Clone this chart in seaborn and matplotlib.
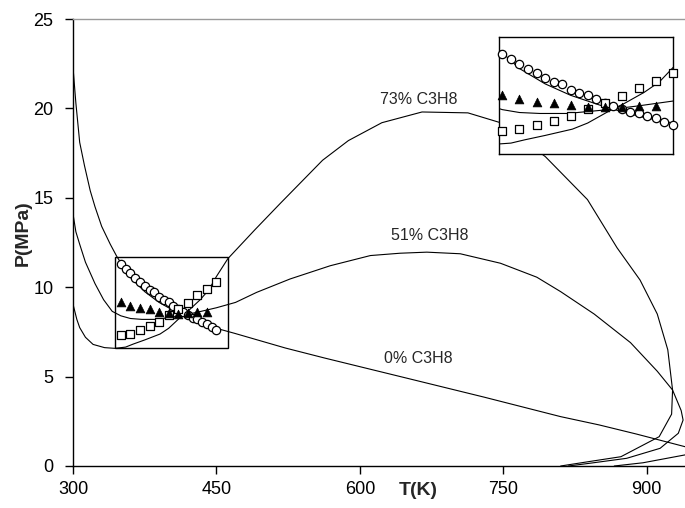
import matplotlib
matplotlib.use("Agg")
import matplotlib.pyplot as plt
import matplotlib.patches as mpatches
import seaborn as sns

# Model phase envelopes, P (MPa) against T (K), traced in drawing order
t_0 = [300, 303, 307, 312, 318, 323, 330, 339, 346, 360, 375, 390, 410, 430,
       450, 469, 522, 563, 650, 730, 810, 850, 889, 940, 950, 940, 896, 866]
p_0 = [22.3, 20.3, 18.1, 16.8, 15.4, 14.5, 13.4, 12.4, 11.7, 10.55, 9.75, 9.15,
       8.55, 8.05, 7.7, 7.42, 6.6, 6.04, 4.9, 3.85, 2.76, 2.3, 1.79, 1.08, 0.85,
       0.62, 0.18, 0.0]

t_51 = [300, 303, 307, 313, 323, 332, 341, 350, 360, 372, 388, 400, 412, 430,
        450, 470, 492, 527, 569, 611, 642, 670, 705, 747, 785, 810, 845, 883,
        911, 927, 936, 938, 933, 914, 879, 840, 818]
p_51 = [14.1, 13.1, 12.4, 11.4, 10.2, 9.3, 8.65, 8.4, 8.25, 8.2, 8.2, 8.3, 8.4,
        8.6, 8.85, 9.15, 9.71, 10.46, 11.2, 11.77, 11.9, 11.96, 11.87, 11.34,
        10.56, 9.75, 8.5, 6.9, 5.3, 4.25, 3.1, 2.57, 1.83, 0.99, 0.43, 0.15, 0.0]

t_73 = [300, 304, 307, 313, 321, 333, 344, 355, 363, 375, 391, 400, 412, 422,
        433, 442, 450, 462, 490, 517, 561, 588, 623, 665, 713, 747, 794, 838,
        869, 893, 911, 922, 927, 926, 913, 873, 840, 810]
p_73 = [9.05, 8.2, 7.74, 7.2, 6.8, 6.62, 6.58, 6.65, 6.82, 7.05, 7.38, 7.7, 8.3,
        8.75, 9.3, 9.85, 10.6, 11.6, 13.2, 14.7, 17.1, 18.2, 19.2, 19.8, 19.75,
        19.2, 17.3, 14.9, 12.2, 10.4, 8.5, 6.5, 4.25, 2.9, 1.64, 0.52, 0.25, 0.0]

# Measured points
exp_t_0 = [350, 355, 360, 365, 370, 375, 380, 385, 390, 395, 400, 405, 410,
           415, 420, 425, 430, 435, 440, 445, 450]
exp_p_0 = [11.31, 11.03, 10.77, 10.51, 10.30, 10.07, 9.86, 9.72, 9.43, 9.29,
           9.17, 8.94, 8.76, 8.59, 8.42, 8.29, 8.21, 8.07, 7.94, 7.77, 7.60]

exp_t_51 = [350, 360, 370, 380, 390, 400, 410, 420, 430, 440]
exp_p_51 = [9.17, 8.96, 8.82, 8.76, 8.64, 8.55, 8.52, 8.55, 8.59, 8.59]

exp_t_73 = [350, 360, 370, 380, 390, 400, 410, 420, 430, 440, 450]
exp_p_73 = [7.30, 7.39, 7.60, 7.82, 8.08, 8.42, 8.76, 9.13, 9.55, 9.92, 10.30]

curve_labels = ["73% C3H8", "51% C3H8", "0% C3H8"]
label_pos = [(662, 20.5), (673, 12.9), (661, 6.0)]

x_ticks = [300, 450, 600, 750, 900]
y_ticks = [0, 5, 10, 15, 20, 25]

sns.set_style("ticks")
plt.rcParams["font.family"] = ["Liberation Sans", "DejaVu Sans"]

fig = plt.figure(figsize=(6.85, 5.08), dpi=100)
ax = fig.add_axes([73 / 685, 42 / 508, 612 / 685, 447 / 508])


def draw_envelopes(a, lw):
    for t, p in [(t_0, p_0), (t_51, p_51), (t_73, p_73)]:
        sns.lineplot(x=t, y=p, sort=False, estimator=None, color="black",
                     linewidth=lw, ax=a, legend=False)


def draw_points(a, clip):
    kw = dict(ax=a, legend=False, clip_on=clip, zorder=5)
    sns.scatterplot(x=exp_t_0, y=exp_p_0, marker="o", s=36, facecolor="white",
                    edgecolor="black", linewidth=0.9, **kw)
    sns.scatterplot(x=exp_t_73, y=exp_p_73, marker="s", s=34, facecolor="white",
                    edgecolor="black", linewidth=0.9, **kw)
    sns.scatterplot(x=exp_t_51, y=exp_p_51, marker="^", s=40, color="black",
                    edgecolor="black", linewidth=0.5, **kw)


draw_envelopes(ax, 0.8)
draw_points(ax, True)

ax.set_xlim(300, 940)
ax.set_ylim(0, 25)
ax.set_xticks(x_ticks)
ax.set_yticks(y_ticks)
ax.tick_params(axis="both", direction="out", length=6, width=1, labelsize=13,
               colors="black")
ax.tick_params(axis="y", pad=8)
ax.tick_params(axis="x", pad=5)

ax.spines["right"].set_visible(False)
ax.spines["top"].set_color("#9a9a9a")
ax.spines["top"].set_linewidth(1.0)
for side in ("left", "bottom"):
    ax.spines[side].set_color("black")
    ax.spines[side].set_linewidth(1.0)

ax.set_xlabel("T(K)", fontsize=14, fontweight="bold")
ax.set_ylabel("P(MPa)", fontsize=14, fontweight="bold")
ax.xaxis.set_label_coords(0.564, -0.054)
ax.yaxis.set_label_coords(-0.082, 0.521)
ax.xaxis.label.set_va("center")
ax.yaxis.label.set_va("center")

for txt, (tx, ty) in zip(curve_labels, label_pos):
    ax.text(tx, ty, txt, fontsize=11.5, ha="center", va="center")

# Frame around the region shown enlarged in the inset
ax.add_patch(mpatches.Rectangle((343.9, 6.6), 462 - 343.9, 11.69 - 6.6,
                                fill=False, edgecolor="black", linewidth=1.0,
                                zorder=4))

# Enlarged view of the low-temperature crossing region
axin = fig.add_axes([499 / 685, 1 - 154 / 508, 174 / 685, 117 / 508])
axin.set_facecolor("white")
draw_envelopes(axin, 0.8)
draw_points(axin, False)
axin.set_xlim(348, 450)
axin.set_ylim(6.08, 12.2)
axin.set_xticks([])
axin.set_yticks([])
axin.set_xlabel("")
axin.set_ylabel("")
for s in axin.spines.values():
    s.set_visible(True)
    s.set_color("black")
    s.set_linewidth(1.0)

fig.savefig("out.png", dpi=100)
